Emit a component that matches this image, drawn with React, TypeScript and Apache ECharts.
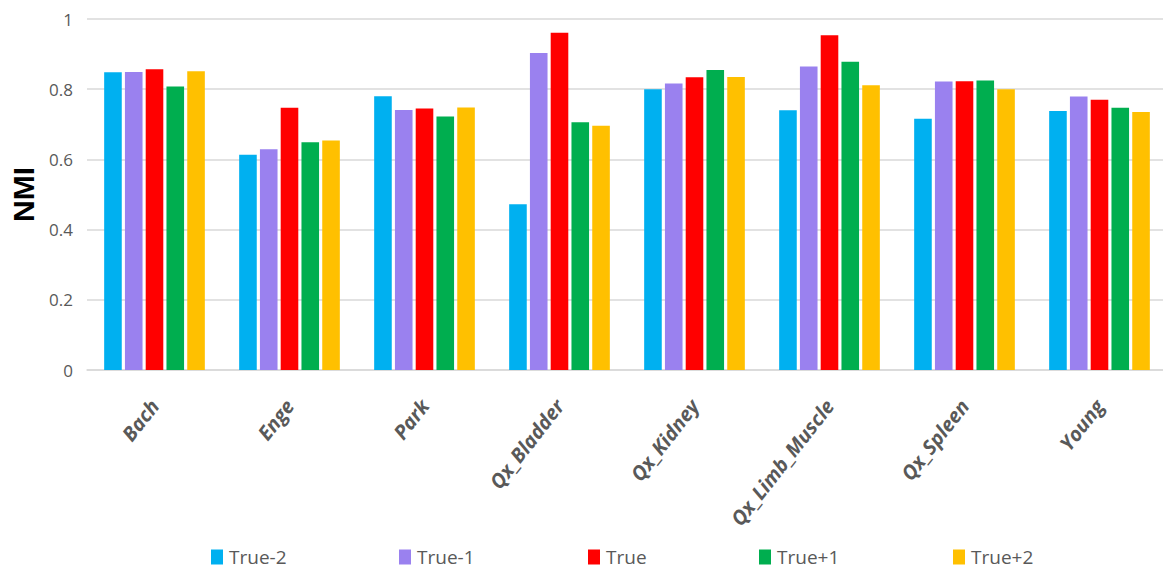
import React, { useEffect, useRef } from "react";
import * as echarts from "echarts";

const categories = ["Bach", "Enge", "Park", "Qx_Bladder", "Qx_Kidney", "Qx_Limb_Muscle", "Qx_Spleen", "Young"];
const seriesNames = ["True-2", "True-1", "True", "True+1", "True+2"];
const trueMinus2 = [0.848, 0.613, 0.780, 0.472, 0.800, 0.740, 0.716, 0.738];
const trueMinus1 = [0.849, 0.629, 0.741, 0.903, 0.816, 0.865, 0.822, 0.779];
const trueVals = [0.857, 0.747, 0.745, 0.961, 0.834, 0.954, 0.823, 0.770];
const truePlus1 = [0.808, 0.649, 0.722, 0.706, 0.855, 0.878, 0.825, 0.747];
const truePlus2 = [0.851, 0.654, 0.748, 0.696, 0.835, 0.811, 0.800, 0.735];
const yTicks = [0, 0.2, 0.4, 0.6, 0.8, 1];
const colors = ["#00B0F0", "#9A81EF", "#FF0000", "#00AE4F", "#FFC000"];
const legendLefts = [206, 394, 583, 754, 948];

export default function App() {
  const ref = useRef<HTMLDivElement>(null);
  useEffect(() => {
    if (!ref.current) return;
    const chart = echarts.init(ref.current, null, { renderer: "svg" });
    const data = [trueMinus2, trueMinus1, trueVals, truePlus1, truePlus2];
    const option: any = {
      animation: false,
      backgroundColor: "#ffffff",
      grid: { left: 87, top: 19, width: 1080, height: 351, containLabel: false, outerBoundsMode: "none" },
      legend: seriesNames.map((n, i) => ({
        data: [n],
        left: legendLefts[i],
        top: 542,
        itemWidth: 12,
        itemHeight: 15,
        itemGap: 0,
        icon: "rect",
        textStyle: { color: "#595959", fontSize: 19, lineHeight: 20, fontFamily: "Open Sans", padding: [0, 0, 0, 1] },
      })),
      xAxis: {
        type: "category",
        data: categories,
        axisLine: { lineStyle: { color: "#D9D9D9", width: 1.5 } },
        axisTick: { show: false },
        axisLabel: {
          rotate: 52,
          margin: 32,
          interval: 0,
          color: "#595959",
          fontSize: 20,
          fontWeight: "bold",
          fontStyle: "italic",
          fontFamily: "Open Sans",
        },
      },
      yAxis: {
        type: "value",
        min: yTicks[0],
        max: yTicks[yTicks.length - 1],
        interval: 0.2,
        name: "NMI",
        nameLocation: "middle",
        nameGap: 49,
        nameTextStyle: { fontSize: 30, fontWeight: "bold", color: "#000000", fontFamily: "Liberation Sans" },
        axisLine: { show: false },
        axisTick: { show: false },
        splitLine: { lineStyle: { color: "#D9D9D9", width: 1.5 } },
        axisLabel: { color: "#595959", fontSize: 17, margin: 14, fontFamily: "Open Sans" },
      },
      series: seriesNames.map((n, i) => ({
        name: n,
        type: "bar",
        data: data[i],
        barWidth: 17.6,
        barGap: "18%",
        itemStyle: { color: colors[i] },
      })),
    };
    chart.setOption(option);
    return () => chart.dispose();
  }, []);
  return (
    <div
      ref={ref}
      style={{ position: "fixed", left: 0, top: 0, width: 1163, height: 572, background: "#fff" }}
    />
  );
}
